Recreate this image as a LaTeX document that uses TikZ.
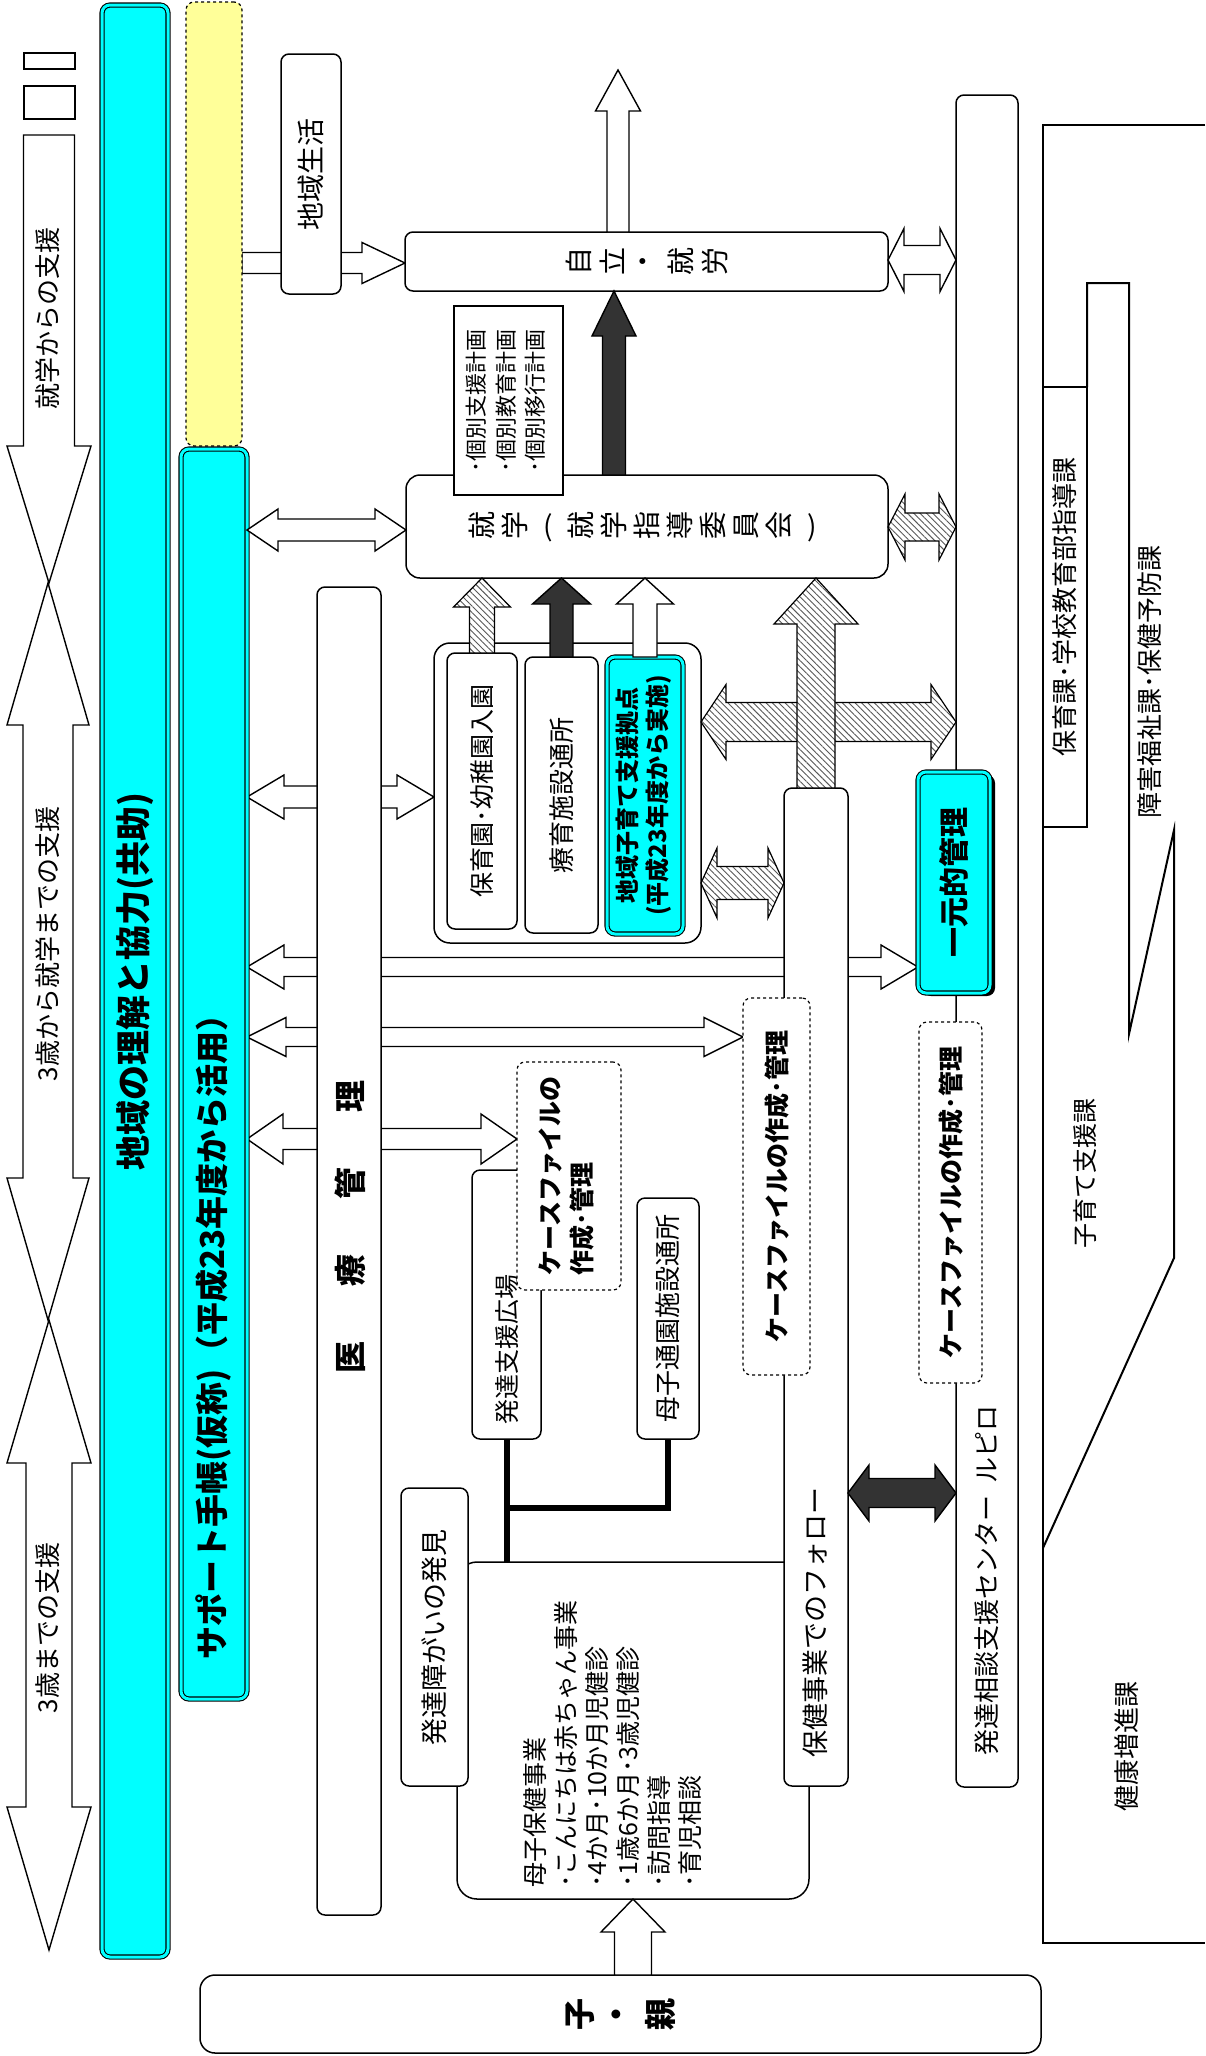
\documentclass[tikz,border=0pt]{standalone}
\usepackage{fontspec}
\setmainfont{Noto Sans CJK JP}
\usepackage{tikz}
\usetikzlibrary{calc,backgrounds,patterns.meta,shadows}
\definecolor{aqua}{RGB}{0,255,255}
\definecolor{paleyellow}{RGB}{255,255,153}

\newcommand{\fsz}[2]{\fontsize{#1pt}{#2pt}\selectfont}
\newcommand{\vt}[1]{\rotatebox{90}{#1}}
\newcommand{\rrow}[2]{\foreach \ltr in {#2}{\makebox[#1pt]{\rotatebox{90}{\ltr}}}}
\newcommand{\arrR}[6]{\draw[#1] let \p1=#2, \p2=#3 in (\x1,\y1+#4pt) -- (\x2-#6pt,\y1+#4pt) -- (\x2-#6pt,\y1+#5pt) -- (\x2,\y1) -- (\x2-#6pt,\y1-#5pt) -- (\x2-#6pt,\y1-#4pt) -- (\x1,\y1-#4pt) -- cycle;}
\newcommand{\arrU}[6]{\draw[#1] let \p1=#2, \p2=#3 in (\x1-#4pt,\y1) -- (\x1-#4pt,\y2-#6pt) -- (\x1-#5pt,\y2-#6pt) -- (\x1,\y2) -- (\x1+#5pt,\y2-#6pt) -- (\x1+#4pt,\y2-#6pt) -- (\x1+#4pt,\y1) -- cycle;}
\newcommand{\arrD}[6]{\draw[#1] let \p1=#2, \p2=#3 in (\x1-#4pt,\y1) -- (\x1-#4pt,\y2+#6pt) -- (\x1-#5pt,\y2+#6pt) -- (\x1,\y2) -- (\x1+#5pt,\y2+#6pt) -- (\x1+#4pt,\y2+#6pt) -- (\x1+#4pt,\y1) -- cycle;}
\newcommand{\arrLR}[6]{\draw[#1] let \p1=#2, \p2=#3 in (\x1,\y1) -- (\x1+#6pt,\y1+#5pt) -- (\x1+#6pt,\y1+#4pt) -- (\x2-#6pt,\y1+#4pt) -- (\x2-#6pt,\y1+#5pt) -- (\x2,\y1) -- (\x2-#6pt,\y1-#5pt) -- (\x2-#6pt,\y1-#4pt) -- (\x1+#6pt,\y1-#4pt) -- (\x1+#6pt,\y1-#5pt) -- cycle;}
\newcommand{\arrUD}[6]{\draw[#1] let \p1=#2, \p2=#3 in (\x1,\y1) -- (\x1+#5pt,\y1-#6pt) -- (\x1+#4pt,\y1-#6pt) -- (\x1+#4pt,\y2+#6pt) -- (\x1+#5pt,\y2+#6pt) -- (\x1,\y2) -- (\x1-#5pt,\y2+#6pt) -- (\x1-#4pt,\y2+#6pt) -- (\x1-#4pt,\y1-#6pt) -- (\x1-#5pt,\y1-#6pt) -- cycle;}

\begin{document}
\begin{tikzpicture}[
    x=1pt, y=-1pt,
    box/.style={draw, line width=1.5pt, fill=white, rounded corners=8pt, inner sep=0pt, outer sep=0pt, anchor=north west},
    cbox/.style={box, fill=aqua, double=aqua, double distance=3pt, line width=1.1pt},
    dbox/.style={box, dashed, line width=1.2pt},
    ybox/.style={dbox, fill=paleyellow},
    lbl/.style={inner sep=0pt},
    warr/.style={draw, line width=1.4pt, fill=white, line join=miter},
    darr/.style={warr, fill=black!80},
    harr/.style={draw, line width=1.2pt, line join=miter, preaction={fill=white}, pattern={Lines[angle=-45,distance=4.5pt,line width=0.9pt]}, pattern color=black!65},
    agearr/.style={draw, line width=1.4pt, line join=miter},
    dept/.style={line width=2pt},
    conn/.style={line width=6pt}
]
\useasboundingbox (0,0) rectangle (1205,2056);

\node[box, rounded corners=0pt, line width=1.3pt, minimum width=51pt, minimum height=16pt] (fade1) at (24,53) {};
\node[box, rounded corners=0pt, line width=1.3pt, minimum width=51pt, minimum height=33pt] (fade2) at (24,86) {};
\node[lbl, font=\fsz{26}{26}] (lshu) at (48,318) {\vt{就学からの支援}};
\node[lbl, font=\fsz{26}{26}] (l3shu) at (48,944) {\vt{3歳から就学までの支援}};
\node[lbl, font=\fsz{26}{26}] (l3) at (48,1628) {\vt{3歳までの支援}};

\node[cbox, minimum width=66pt, minimum height=1952pt, font=\fsz{35}{35}\bfseries] (tiiki) at (102,5) {\vt{地域の理解と協力(共助)}};
\node[ybox, minimum width=56pt, minimum height=444pt] (yel) at (186,2) {};
\node[cbox, minimum width=66pt, minimum height=1250pt] (tetyo) at (181,449) {};
\node[lbl, font=\fsz{33}{33}\bfseries] (ltetyo) at (213,1329) {\vt{サポート手帳(仮称)（平成23年度から活用）}};

\node[box, minimum width=60pt, minimum height=240pt, font=\fsz{28}{28}] (seikatsu) at (281,54) {\vt{地域生活}};
\coordinate (exit) at (618,70);
\node[box, minimum width=483pt, minimum height=59pt, font=\fsz{28}{28}] (jiritsu) at (405,232) {\rrow{34}{自,立,・,就,労}};
\node[box, rounded corners=14pt, minimum width=482pt, minimum height=103pt, font=\fsz{28}{28}] (shugaku) at (406,475) {\rrow{33}{就,学}\makebox[33pt]{\raisebox{0.12em}{(}}\rrow{33}{就,学,指,導,委,員,会}\makebox[33pt]{\raisebox{0.12em}{)}}};
\node[box, rounded corners=0pt, minimum width=109pt, minimum height=189pt, font=\fsz{22}{29.5}] (kobetsu) at (454,306) {\vt{\begin{tabular}{@{}l@{}}･個別支援計画\\･個別教育計画\\･個別移行計画\end{tabular}}};

\node[box, rounded corners=16pt, minimum width=267pt, minimum height=300pt] (grp) at (434,643) {};
\node[box, minimum width=70pt, minimum height=276pt, font=\fsz{25}{25}] (hoiku) at (447,653) {\vt{保育園･幼稚園入園}};
\node[box, minimum width=73pt, minimum height=276pt, font=\fsz{26}{26}] (ryoiku) at (525,657) {\vt{療育施設通所}};
\node[cbox, minimum width=76pt, minimum height=277pt, font=\fsz{24}{30}\bfseries] (kosodate) at (607,657) {\vt{\begin{tabular}{@{}c@{}}地域子育て支援拠点\\(平成23年度から実施)\end{tabular}}};

\node[box, minimum width=64pt, minimum height=1328pt] (iryo) at (317,587) {};
\node[lbl, font=\fsz{32}{32}\bfseries] (liryo) at (350,1227) {\vt{医\hspace{55pt}療\hspace{55pt}管\hspace{55pt}理}};

\node[box, rounded corners=20pt, minimum width=352pt, minimum height=337pt] (boshihoken) at (457,1562) {};
\node[lbl, font=\fsz{25}{31}, anchor=south west] (lboshihoken) at (523,1888) {\vt{\begin{tabular}{@{}l@{}}母子保健事業\\･こんにちは赤ちゃん事業\\･4か月･10か月児健診\\･1歳6か月･3歳児健診\\･訪問指導\\･育児相談\end{tabular}}};
\node[box, minimum width=67pt, minimum height=298pt, font=\fsz{27}{27}] (hakken) at (401,1488) {\vt{発達障がいの発見}};
\node[box, minimum width=69pt, minimum height=269pt] (hiroba) at (472,1170) {};
\node[lbl, font=\fsz{25}{25}] (lhiroba) at (507,1349) {\vt{発達支援広場}};
\node[dbox, minimum width=104pt, minimum height=228pt, font=\fsz{25}{32}\bfseries] (cf1) at (517,1062) {\vt{\begin{tabular}{@{}l@{}}ケースファイルの\\作成･管理\end{tabular}}};
\node[box, minimum width=62pt, minimum height=241pt, font=\fsz{26}{26}] (boshi) at (637,1198) {\vt{母子通園施設通所}};

\node[box, minimum width=64pt, minimum height=998pt] (hoken) at (784,788) {};
\node[lbl, font=\fsz{27}{27}] (lhoken) at (815,1622) {\vt{保健事業でのフォロー}};
\node[dbox, minimum width=67pt, minimum height=377pt, font=\fsz{25}{25}\bfseries] (cf2) at (743,998) {\vt{ケースファイルの作成･管理}};

\node[box, minimum width=62pt, minimum height=1692pt] (rupiro) at (956,95) {};
\node[lbl, font=\fsz{26}{26}] (lrupiro) at (987,1580) {\vt{発達相談支援センター\hspace{12pt}ルピロ}};
\node[cbox, drop shadow={shadow xshift=5pt, shadow yshift=-3pt, opacity=1, fill=black}, minimum width=72pt, minimum height=221pt, font=\fsz{30}{30}\bfseries] (ichigen) at (918,772) {\vt{一元的管理}};
\node[dbox, minimum width=63pt, minimum height=361pt, font=\fsz{25}{25}\bfseries] (cf3) at (919,1022) {\vt{ケースファイルの作成･管理}};

\node[box, rounded corners=15pt, minimum width=841pt, minimum height=78pt, font=\fsz{32}{32}\bfseries] (oya) at (200,1975) {\rrow{40}{子,・,親}};

\draw[dept] (1205,125) -- (1043,125) -- (1043,1943) -- (1205,1943);
\draw[dept] (1043,387) rectangle (1087,827);
\draw[dept] (1087,387) -- (1087,283) -- (1129,283) -- (1129,1034) -- (1174,830) -- (1174,1258) -- (1043,1548);
\node[lbl, font=\fsz{26}{26}] (hoikuka) at (1065,607) {\vt{保育課･学校教育部指導課}};
\node[lbl, font=\fsz{26}{26}] (shogaika) at (1150,682) {\vt{障害福祉課･保健予防課}};
\node[lbl, font=\fsz{25}{25}] (kosodateka) at (1085,1173) {\vt{子育て支援課}};
\node[lbl, font=\fsz{26}{26}] (kenkoka) at (1127,1746) {\vt{健康増進課}};

\draw[conn] (hiroba.south) -- (hiroba.south |- boshihoken.north);
\draw[conn] (hiroba.south |- 0,1508) -| (boshi.south);

\arrU{harr}{(hoiku.north)}{(shugaku.south -| hoiku.north)}{12.5}{28.5}{29}
\arrU{darr}{(ryoiku.north)}{(shugaku.south -| ryoiku.north)}{11.5}{29}{26}
\arrU{warr}{(kosodate.north)}{(shugaku.south -| kosodate.north)}{12}{28.5}{26}
\arrLR{harr}{(grp.east |- 0,722)}{(rupiro.west |- 0,722)}{19.5}{37.5}{25}
\arrU{harr}{(hoken.north)}{(shugaku.south -| hoken.north)}{19}{42}{46}
\arrLR{harr}{(grp.east |- 0,883)}{(hoken.west |- 0,883)}{16.5}{35}{16}
\arrLR{harr}{(shugaku.east |- 0,527)}{(rupiro.west |- 0,527)}{14}{33}{17}
\arrLR{warr}{(jiritsu.east |- 0,260)}{(rupiro.west |- 0,260)}{14.5}{31.5}{16}
\arrU{darr}{(614,0 |- shugaku.north)}{(614,0 |- jiritsu.south)}{11.5}{22}{45}
\arrU{warr}{(jiritsu.north -| exit)}{(exit)}{11}{22.5}{41}
\arrLR{darr}{(hoken.east |- 0,1493)}{(rupiro.west |- 0,1493)}{14.5}{28}{21}
\arrU{warr}{(oya.north -| boshihoken.south)}{(boshihoken.south)}{18.5}{32}{33}
\arrLR{warr}{(tetyo.east |- 0,530)}{(shugaku.west |- 0,530)}{11}{21}{31}

\begin{pgfonlayer}{background}
\arrR{warr}{(yel.east |- 0,263)}{(jiritsu.west |- 0,263)}{10.5}{20.5}{43}
\arrLR{warr}{(tetyo.east |- 0,797)}{(grp.west |- 0,797)}{11}{22}{37}
\arrLR{warr}{(tetyo.east |- 0,967)}{(ichigen.west |- 0,967)}{9.5}{22}{37}
\arrLR{warr}{(tetyo.east |- 0,1037)}{(cf2.west |- 0,1037)}{9.5}{19.5}{39}
\arrLR{warr}{(tetyo.east |- 0,1139)}{(cf1.west |- 0,1139)}{10.5}{25}{36}
\arrD{agearr}{(49,135)}{(49,583)}{25.5}{42}{137}
\arrUD{agearr}{(48,583)}{(48,1320)}{25}{41}{142}
\arrUD{agearr}{(49,1320)}{(49,1950)}{23}{42}{143}
\end{pgfonlayer}
\end{tikzpicture}
\end{document}
